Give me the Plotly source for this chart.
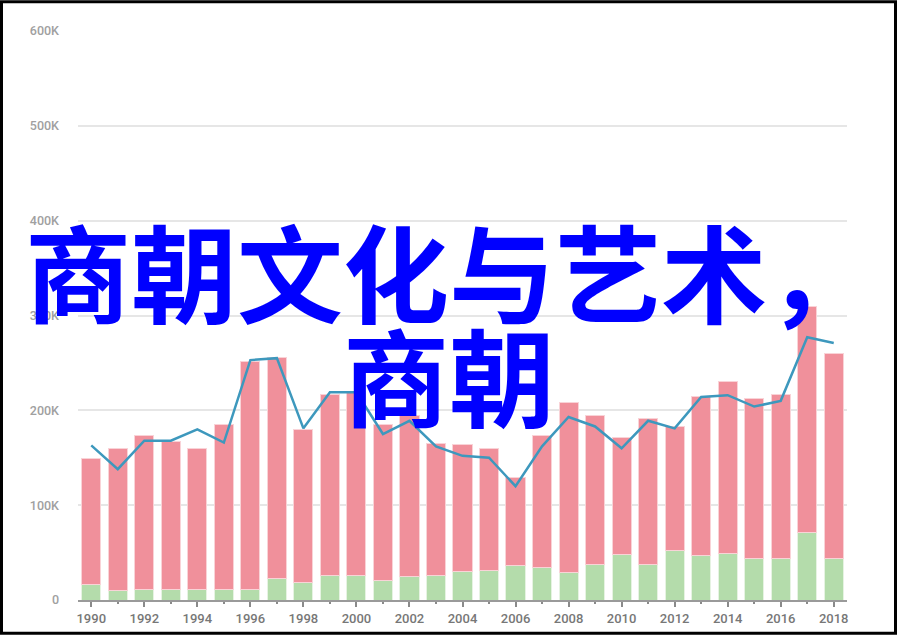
"""
堆叠柱状图 + 折线, 叠加大标题文字
"""
import plotly.graph_objects as go

years = list(range(1990, 2019))
# 柱子总高度 (千)
total_k = [149, 160, 173, 167, 160, 185, 252, 256, 180, 217,
           220, 185, 195, 165, 164, 160, 129, 173, 208, 195,
           171, 191, 183, 215, 230, 212, 217, 310, 260]
# 绿色底部 (千)
green_k = [16.5, 10, 11, 11, 11, 11, 11, 23, 18.5, 26,
           26, 21, 24.5, 26, 30, 31.5, 36.5, 34, 29, 37.5,
           48.5, 37.5, 52, 47, 49.5, 44, 44, 71, 44]
# 折线 (千)
line_k = [163, 138, 168, 168, 180, 166, 253, 255, 181, 219,
          219, 175, 189, 162, 152, 150, 120, 162, 193, 183,
          160, 189, 181, 214, 216, 204, 210, 277, 271]

y_tickvals = [0, 100000, 200000, 300000, 400000, 500000, 600000]
y_ticktext = ["0", "100K", "200K", "300K", "400K", "500K", "600K"]
title_line1 = "商朝文化与艺术，"
title_line2 = "商朝"

green = [v * 1000 for v in green_k]
pink = [(t - g) * 1000 for t, g in zip(total_k, green_k)]
line = [v * 1000 for v in line_k]

W, H = 897, 638
ML, MR, MT, MB = 78, 50, 31, 35
PW, PH = W - ML - MR, H - MT - MB


def px_x(px):
    return (px - ML) / PW


def px_y(py):
    return (H - MB - py) / PH


fig = go.Figure()
fig.add_trace(go.Bar(
    x=years, y=green, name="green",
    marker=dict(color="#b4dcab", line=dict(color="#e6f3e2", width=1)),
))
fig.add_trace(go.Bar(
    x=years, y=pink, name="pink",
    marker=dict(color="#f0909b", line=dict(color="#f9d3d7", width=1)),
))
fig.add_trace(go.Scatter(
    x=years, y=line, mode="lines", name="line",
    line=dict(color="#3d98bd", width=2.5),
))

fig.update_layout(
    width=W, height=H,
    barmode="stack",
    bargap=0.28,
    showlegend=False,
    plot_bgcolor="white",
    paper_bgcolor="white",
    margin=dict(l=ML, r=MR, t=MT, b=MB, pad=0),
    font=dict(family="Roboto", size=12, color="#9e9e9e"),
)
fig.update_xaxes(
    range=[1989.5, 2018.5],
    tickmode="linear", tick0=1990, dtick=2,
    ticks="outside", ticklen=5, tickwidth=1.5, tickcolor="#8a8a8a",
    minor=dict(ticks="outside", ticklen=2, dtick=1, tickcolor="#8a8a8a"),
    showline=True, linecolor="#9a9a9a", linewidth=2,
    showgrid=False,
    tickfont=dict(family="Roboto", size=13, color="#777777", weight=500),
)
fig.update_yaxes(
    range=[0, 600000],
    tickvals=y_tickvals, ticktext=y_ticktext,
    showgrid=True, gridcolor="#e6e6e6", gridwidth=1.5,
    zeroline=False, showline=False,
    ticks="", ticklabelstandoff=18,
    tickfont=dict(family="Roboto", size=12.5, color="#a0a0a0", weight=500),
)

# 大标题文字
for txt, cy in [(title_line1, 270), (title_line2, 375)]:
    fig.add_annotation(
        text=txt, xref="paper", yref="paper",
        x=px_x(W / 2), y=px_y(cy),
        xanchor="center", yanchor="middle",
        showarrow=False,
        font=dict(family="Noto Sans CJK SC", size=106, color="#0000ff", weight="bold"),
    )

# 黑色边框
fig.add_shape(
    type="rect", xref="paper", yref="paper",
    x0=px_x(1.5), x1=px_x(W - 1.5), y0=px_y(H - 1.5), y1=px_y(1.5),
    line=dict(color="black", width=3),
)

fig.write_html("out.html", config={"displayModeBar": False},
               post_script="document.body.style.margin='0';")
